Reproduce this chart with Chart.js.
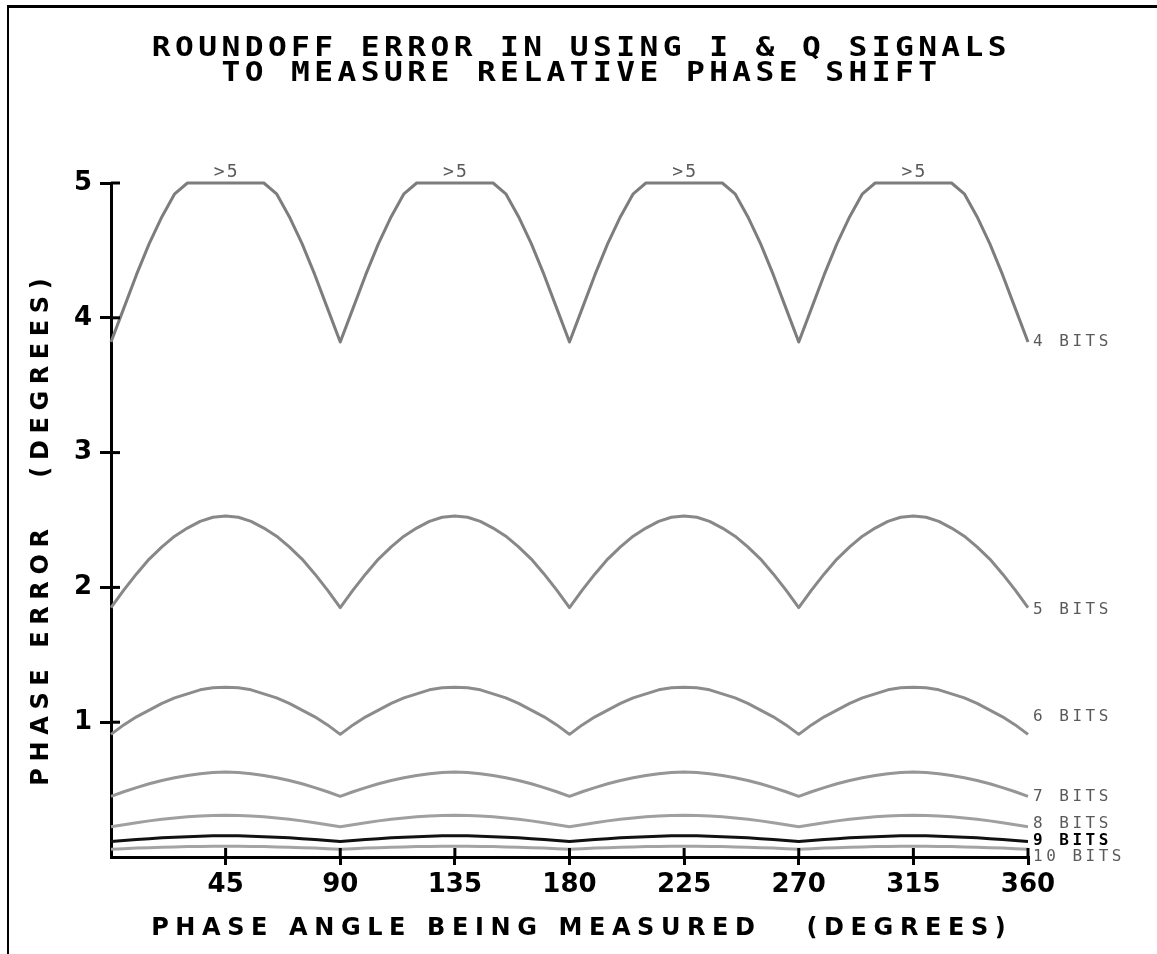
<!DOCTYPE html>
<html>
<head>
<meta charset="utf-8">
<script src="https://cdn.jsdelivr.net/npm/chart.js@4.4.1/dist/chart.umd.min.js"></script>
<style>
  html, body { margin: 0; padding: 0; background: #fff; }
  #wrap { position: relative; width: 1157px; height: 954px; overflow: hidden; background: #fff; }
  #frame { position: absolute; left: 7px; top: 5px; width: 1200px; height: 1000px;
           border-top: 3px solid #000; border-left: 2px solid #000; box-sizing: border-box; }
  #chart { position: absolute; left: 0; top: 0; }
  .txt { position: absolute; white-space: pre; color: #000; text-align: center; }
  #title { left: 0; width: 1157px; top: 35px; font: bold 26px "DejaVu Sans Mono";
           line-height: 25px; letter-spacing: 3.7px; padding-left: 3.7px; box-sizing: border-box;
           transform: scaleX(1.2); transform-origin: 575px 0; }
  #xtitle { left: 0; width: 1157px; top: 914px; font: bold 24px "DejaVu Sans";
            line-height: 26px; letter-spacing: 6.6px; padding-left: 6.6px; box-sizing: border-box; }
  #ytitle { left: -260px; top: 519px; width: 600px; height: 26px; font: bold 24px "DejaVu Sans";
            line-height: 26px; letter-spacing: 6.6px; padding-left: 6.6px; box-sizing: border-box;
            transform: rotate(-90deg); }
</style>
</head>
<body>
<div id="wrap">
  <div id="frame"></div>
  <canvas id="chart" width="1157" height="954"></canvas>
  <div id="title" class="txt">ROUNDOFF ERROR IN USING I &amp; Q SIGNALS
TO MEASURE RELATIVE PHASE SHIFT</div>
  <div id="xtitle" class="txt">PHASE ANGLE BEING MEASURED   (DEGREES)</div>
  <div id="ytitle" class="txt">PHASE ERROR   (DEGREES)</div>
</div>
<script>
// Phase angle (degrees) at which each curve is sampled
const angles = [0,5,10,15,20,25,30,35,40,45,50,55,60,65,70,75,80,85,90,
  95,100,105,110,115,120,125,130,135,140,145,150,155,160,165,170,175,180,
  185,190,195,200,205,210,215,220,225,230,235,240,245,250,255,260,265,270,
  275,280,285,290,295,300,305,310,315,320,325,330,335,340,345,350,355,360];

// Phase error (degrees) for each word length; 4-bit values above 5 are held at 5
const bits4 = [
  3.82,4.07,4.32,4.55,4.75,4.92,5.00,5.00,5.00,5.00,5.00,5.00,5.00,4.92,4.75,4.55,4.32,4.07,
  3.82,4.07,4.32,4.55,4.75,4.92,5.00,5.00,5.00,5.00,5.00,5.00,5.00,4.92,4.75,4.55,4.32,4.07,
  3.82,4.07,4.32,4.55,4.75,4.92,5.00,5.00,5.00,5.00,5.00,5.00,5.00,4.92,4.75,4.55,4.32,4.07,
  3.82,4.07,4.32,4.55,4.75,4.92,5.00,5.00,5.00,5.00,5.00,5.00,5.00,4.92,4.75,4.55,4.32,4.07,
  3.82];
const bits5 = [
  1.85,1.98,2.10,2.21,2.30,2.38,2.44,2.49,2.52,2.53,2.52,2.49,2.44,2.38,2.30,2.21,2.10,1.98,
  1.85,1.98,2.10,2.21,2.30,2.38,2.44,2.49,2.52,2.53,2.52,2.49,2.44,2.38,2.30,2.21,2.10,1.98,
  1.85,1.98,2.10,2.21,2.30,2.38,2.44,2.49,2.52,2.53,2.52,2.49,2.44,2.38,2.30,2.21,2.10,1.98,
  1.85,1.98,2.10,2.21,2.30,2.38,2.44,2.49,2.52,2.53,2.52,2.49,2.44,2.38,2.30,2.21,2.10,1.98,
  1.85];
const bits6 = [
  0.91,0.98,1.04,1.09,1.14,1.18,1.21,1.24,1.255,1.26,1.255,1.24,1.21,1.18,1.14,1.09,1.04,0.98,
  0.91,0.98,1.04,1.09,1.14,1.18,1.21,1.24,1.255,1.26,1.255,1.24,1.21,1.18,1.14,1.09,1.04,0.98,
  0.91,0.98,1.04,1.09,1.14,1.18,1.21,1.24,1.255,1.26,1.255,1.24,1.21,1.18,1.14,1.09,1.04,0.98,
  0.91,0.98,1.04,1.09,1.14,1.18,1.21,1.24,1.255,1.26,1.255,1.24,1.21,1.18,1.14,1.09,1.04,0.98,
  0.91];
const bits7 = [
  0.450,0.484,0.515,0.543,0.567,0.588,0.605,0.618,0.626,0.630,0.626,0.618,0.605,0.588,0.567,0.543,0.515,0.484,
  0.450,0.484,0.515,0.543,0.567,0.588,0.605,0.618,0.626,0.630,0.626,0.618,0.605,0.588,0.567,0.543,0.515,0.484,
  0.450,0.484,0.515,0.543,0.567,0.588,0.605,0.618,0.626,0.630,0.626,0.618,0.605,0.588,0.567,0.543,0.515,0.484,
  0.450,0.484,0.515,0.543,0.567,0.588,0.605,0.618,0.626,0.630,0.626,0.618,0.605,0.588,0.567,0.543,0.515,0.484,
  0.450];
const bits8 = [
  0.225,0.240,0.254,0.268,0.280,0.290,0.298,0.304,0.308,0.310,0.308,0.304,0.298,0.290,0.280,0.268,0.254,0.240,
  0.225,0.240,0.254,0.268,0.280,0.290,0.298,0.304,0.308,0.310,0.308,0.304,0.298,0.290,0.280,0.268,0.254,0.240,
  0.225,0.240,0.254,0.268,0.280,0.290,0.298,0.304,0.308,0.310,0.308,0.304,0.298,0.290,0.280,0.268,0.254,0.240,
  0.225,0.240,0.254,0.268,0.280,0.290,0.298,0.304,0.308,0.310,0.308,0.304,0.298,0.290,0.280,0.268,0.254,0.240,
  0.225];
const bits9 = [
  0.115,0.122,0.130,0.136,0.142,0.147,0.151,0.154,0.157,0.158,0.157,0.154,0.151,0.147,0.142,0.136,0.130,0.122,
  0.115,0.122,0.130,0.136,0.142,0.147,0.151,0.154,0.157,0.158,0.157,0.154,0.151,0.147,0.142,0.136,0.130,0.122,
  0.115,0.122,0.130,0.136,0.142,0.147,0.151,0.154,0.157,0.158,0.157,0.154,0.151,0.147,0.142,0.136,0.130,0.122,
  0.115,0.122,0.130,0.136,0.142,0.147,0.151,0.154,0.157,0.158,0.157,0.154,0.151,0.147,0.142,0.136,0.130,0.122,
  0.115];
const bits10 = [
  0.058,0.062,0.066,0.069,0.072,0.075,0.077,0.078,0.079,0.080,0.079,0.078,0.077,0.075,0.072,0.069,0.066,0.062,
  0.058,0.062,0.066,0.069,0.072,0.075,0.077,0.078,0.079,0.080,0.079,0.078,0.077,0.075,0.072,0.069,0.066,0.062,
  0.058,0.062,0.066,0.069,0.072,0.075,0.077,0.078,0.079,0.080,0.079,0.078,0.077,0.075,0.072,0.069,0.066,0.062,
  0.058,0.062,0.066,0.069,0.072,0.075,0.077,0.078,0.079,0.080,0.079,0.078,0.077,0.075,0.072,0.069,0.066,0.062,
  0.058];

const seriesNames = ['4 BITS', '5 BITS', '6 BITS', '7 BITS', '8 BITS', '9 BITS', '10 BITS'];
const seriesValues = [bits4, bits5, bits6, bits7, bits8, bits9, bits10];

// Axis ticks
const xTickStep = 45;
const yTickStep = 1;

// Peaks of the 4-bit curve that run off the top of the scale
const clippedPeaks = [45, 135, 225, 315];
const clippedText = '>5';

// Drawing styles (kept apart from the values)
const lineColors = ['#7d7d7d', '#888888', '#8c8c8c', '#969696', '#a0a0a0', '#111111', '#a4a4a4'];
const labelStyle = [
  { color: '#5a5a5a', bold: false, dy: 0 },
  { color: '#5a5a5a', bold: false, dy: 2 },
  { color: '#5a5a5a', bold: false, dy: -17 },
  { color: '#5a5a5a', bold: false, dy: 1 },
  { color: '#5a5a5a', bold: false, dy: -3 },
  { color: '#000000', bold: true,  dy: -1 },
  { color: '#5a5a5a', bold: false, dy: 8 }
];

const datasets = seriesValues.map((vals, i) => ({
  label: seriesNames[i],
  data: angles.map((a, k) => ({ x: a, y: vals[k] })),
  borderColor: lineColors[i],
  borderWidth: 3,
  borderJoinStyle: 'round',
  pointRadius: 0,
  tension: 0,
  fill: false,
  clip: false
}));

// Tick marks that also reach inside the plot, crossing the axis lines
const innerTicks = {
  id: 'innerTicks',
  afterDraw(chart) {
    const { ctx, chartArea, scales } = chart;
    ctx.save();
    ctx.strokeStyle = '#000';
    ctx.lineWidth = 3;
    scales.y.ticks.forEach(t => {
      if (t.value === 0) return;
      const y = scales.y.getPixelForValue(t.value);
      ctx.beginPath();
      ctx.moveTo(chartArea.left, y);
      ctx.lineTo(chartArea.left + 9, y);
      ctx.stroke();
    });
    scales.x.ticks.forEach(t => {
      if (t.value === 0) return;
      const x = scales.x.getPixelForValue(t.value);
      ctx.beginPath();
      ctx.moveTo(x, chartArea.bottom);
      ctx.lineTo(x, chartArea.bottom - 9);
      ctx.stroke();
    });
    ctx.restore();
  }
};

// Series names at the right-hand ends and ">5" marks over the clipped peaks
const curveLabels = {
  id: 'curveLabels',
  afterDatasetsDraw(chart) {
    const { ctx, scales } = chart;
    const xs = scales.x, ys = scales.y;
    ctx.save();
    ctx.textBaseline = 'middle';
    ctx.textAlign = 'left';
    ctx.letterSpacing = '3.5px';
    seriesValues.forEach((vals, i) => {
      const st = labelStyle[i];
      const last = vals[vals.length - 1];
      const x = xs.getPixelForValue(angles[angles.length - 1]) + 5;
      const y = ys.getPixelForValue(last) + st.dy;
      ctx.fillStyle = st.color;
      ctx.font = (st.bold ? 'bold ' : '') + '16px "DejaVu Sans Mono"';
      ctx.fillText(seriesNames[i], x, y);
    });
    ctx.letterSpacing = '2px';
    ctx.textAlign = 'center';
    ctx.textBaseline = 'alphabetic';
    ctx.fillStyle = '#5a5a5a';
    ctx.font = '18px "DejaVu Sans Mono"';
    clippedPeaks.forEach(a => {
      ctx.fillText(clippedText, xs.getPixelForValue(a) + 1, ys.getPixelForValue(ys.max) - 6);
    });
    ctx.restore();
  }
};

const tickFont = { family: 'DejaVu Sans', weight: 'bold', size: 26 };
const tickColor = ctx => (ctx.tick && ctx.tick.value === 0) ? 'rgba(0,0,0,0)' : '#000';

new Chart(document.getElementById('chart'), {
  type: 'line',
  data: { datasets },
  options: {
    responsive: false,
    animation: false,
    events: [],
    layout: { padding: { left: 51, right: 129, top: 183, bottom: 47 } },
    plugins: { legend: { display: false }, tooltip: { enabled: false }, title: { display: false } },
    scales: {
      x: {
        type: 'linear', min: 0, max: 360,
        ticks: { stepSize: xTickStep, autoSkip: false, maxRotation: 0, color: '#000', font: tickFont,
                 padding: 5, callback: v => (v === 0 ? '' : v) },
        grid: { drawOnChartArea: false, tickLength: 8, lineWidth: 3, color: tickColor },
        border: { display: true, color: '#000', width: 3 },
        afterFit(s) { s.height = 50; }
      },
      y: {
        type: 'linear', min: 0, max: 5,
        ticks: { stepSize: yTickStep, color: '#000', font: tickFont, padding: 8,
                 callback: v => (v === 0 ? '' : v) },
        grid: { drawOnChartArea: false, tickLength: 11, lineWidth: 3, color: tickColor },
        border: { display: true, color: '#000', width: 3 },
        afterFit(s) { s.width = 60; }
      }
    }
  },
  plugins: [innerTicks, curveLabels]
});
</script>
</body>
</html>
